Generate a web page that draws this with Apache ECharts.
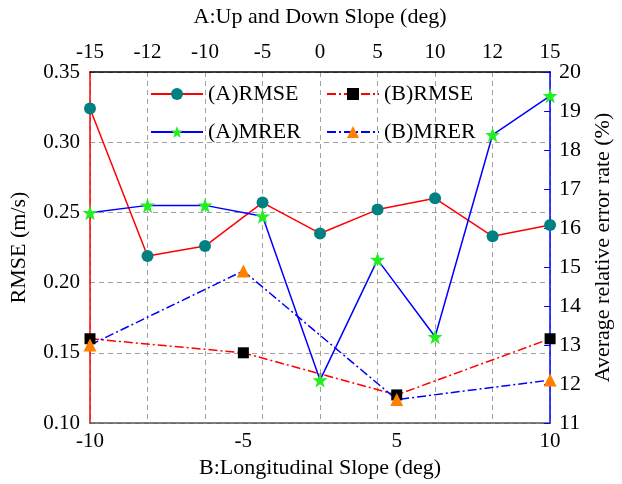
<!DOCTYPE html>
<html>
<head>
<meta charset="utf-8">
<script src="https://cdn.jsdelivr.net/npm/echarts@6/dist/echarts.min.js"></script>
<style>html,body{margin:0;padding:0;background:#fff}#c{width:622px;height:484px}</style>
</head>
<body>
<div id="c"></div>
<script>
const aCategories = ['-15','-12','-10','-5','0','5','10','12','15'];
const bCategories = ['-10','-5','5','10'];
const aRmse = [0.324,0.219,0.226,0.257,0.235,0.252,0.260,0.233,0.241];
const aMrer = [16.39,16.58,16.58,16.30,12.10,15.19,13.21,18.39,19.39];
const bRmse = [0.160,0.150,0.120,0.160];
const bMrer = [13.0,14.9,11.6,12.1];

const FONT = 'Liberation Serif';
const STAR = 'path://M0,-10 L2.35,-3.24 9.51,-3.09 3.8,1.24 5.88,8.09 0,4 -5.88,8.09 -3.8,1.24 -9.51,-3.09 -2.35,-3.24 Z';
const dashDot = [9,3,2,3];

const chart = echarts.init(document.getElementById('c'), null, {renderer:'canvas'});
chart.setOption({
  animation:false,
  backgroundColor:'#fff',
  textStyle:{fontFamily:FONT},
  grid:{left:90,right:63,top:72,bottom:60,containLabel:false},
  legend:[
    {data:['(A)RMSE','(A)MRER'],orient:'vertical',left:150,top:83,padding:0,itemWidth:52,itemHeight:15,itemGap:16,
     textStyle:{fontFamily:FONT,fontSize:22,color:'#000'}},
    {data:['(B)RMSE','(B)MRER'],orient:'vertical',left:326,top:83,padding:0,itemWidth:52,itemHeight:15,itemGap:16,
     textStyle:{fontFamily:FONT,fontSize:22,color:'#000'}}
  ],
  xAxis:[
    {type:'category',position:'top',data:aCategories,boundaryGap:false,
     name:'A:Up and Down Slope (deg)',nameLocation:'middle',nameGap:44,
     nameTextStyle:{fontFamily:FONT,fontSize:22,color:'#000'},
     axisLine:{lineStyle:{color:'#000',width:1.5}},axisTick:{show:false},
     axisLabel:{fontFamily:FONT,fontSize:21,color:'#000',margin:9},
     splitLine:{show:true,lineStyle:{color:'#a0a0a0',type:[5,4],width:1}}},
    {type:'category',position:'bottom',data:bCategories,boundaryGap:false,
     name:'B:Longitudinal Slope (deg)',nameLocation:'middle',nameGap:34,
     nameTextStyle:{fontFamily:FONT,fontSize:22,color:'#000'},
     axisLine:{lineStyle:{color:'#555',width:1.5}},axisTick:{show:false},
     axisLabel:{fontFamily:FONT,fontSize:21,color:'#000',margin:8},
     splitLine:{show:false}}
  ],
  yAxis:[
    {type:'value',position:'left',min:0.10,max:0.35,interval:0.05,
     name:'RMSE (m/s)',nameLocation:'middle',nameRotate:90,nameGap:60,
     nameTextStyle:{fontFamily:FONT,fontSize:22,color:'#000'},
     axisLine:{show:true,lineStyle:{color:'#ff0000',width:1.5}},axisTick:{show:false},
     axisLabel:{fontFamily:FONT,fontSize:21,color:'#000',margin:10,formatter:v=>v.toFixed(2)},
     splitLine:{show:true,lineStyle:{color:'#a0a0a0',type:[5,4],width:1}}},
    {type:'value',position:'right',min:11,max:20,interval:1,
     name:'Average relative error rate (%)',nameLocation:'middle',nameRotate:90,nameGap:38,
     nameTextStyle:{fontFamily:FONT,fontSize:22,color:'#000'},
     axisLine:{show:true,lineStyle:{color:'#0000ff',width:1.5}},
     axisTick:{show:true,inside:true,length:6,lineStyle:{color:'#0000ff',width:1}},
     axisLabel:{fontFamily:FONT,fontSize:22,color:'#000',margin:9},
     splitLine:{show:false}}
  ],
  series:[
    {name:'(A)RMSE',type:'line',xAxisIndex:0,yAxisIndex:0,data:aRmse,
     symbol:'circle',symbolSize:12,lineStyle:{color:'#ff0000',width:1.5},itemStyle:{color:'#008080'}},
    {name:'(A)MRER',type:'line',xAxisIndex:0,yAxisIndex:1,data:aMrer,
     symbol:STAR,symbolSize:15,lineStyle:{color:'#0000ff',width:1.5},itemStyle:{color:'#22ee22'}},
    {name:'(B)RMSE',type:'line',xAxisIndex:1,yAxisIndex:0,data:bRmse,
     symbol:'rect',symbolSize:11,lineStyle:{color:'#ff0000',width:1.5,type:dashDot},itemStyle:{color:'#000'}},
    {name:'(B)MRER',type:'line',xAxisIndex:1,yAxisIndex:1,data:bMrer,
     symbol:'triangle',symbolSize:13,lineStyle:{color:'#0000ff',width:1.5,type:dashDot},itemStyle:{color:'#ff8000'}}
  ]
});
</script>
</body>
</html>
